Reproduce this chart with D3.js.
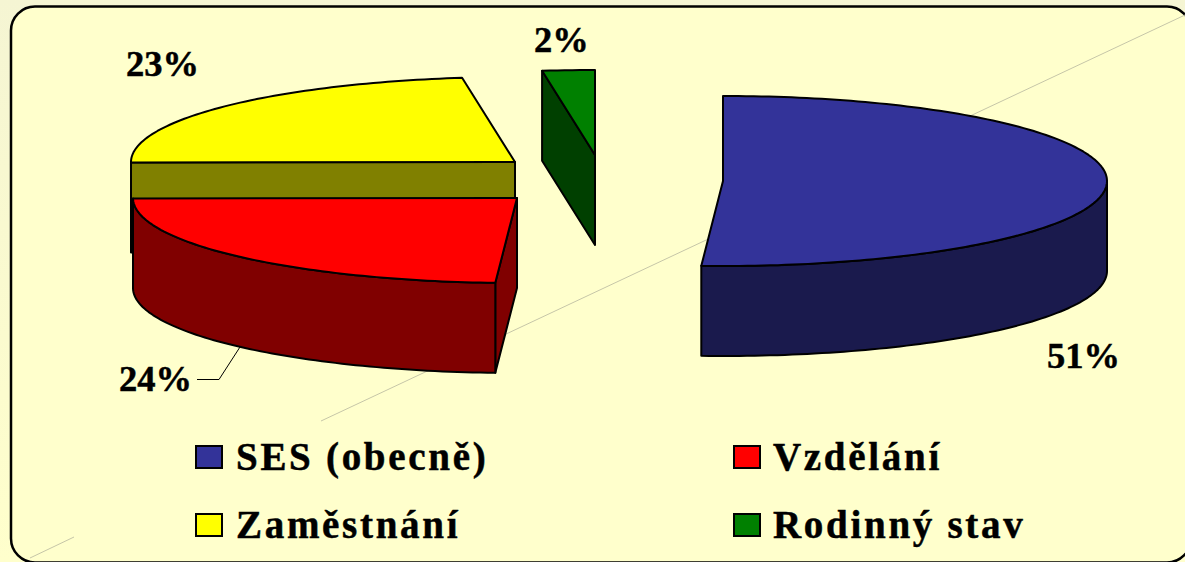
<!DOCTYPE html>
<html>
<head>
<meta charset="utf-8">
<script src="https://d3js.org/d3.v7.min.js"></script>
<style>
  html, body { margin: 0; padding: 0; background: #ffffcc; overflow: hidden; }
  text { font-family: "Liberation Serif", serif; font-weight: bold; fill: #000; stroke: #000; stroke-width: 0.5px; }
</style>
</head>
<body>
<div id="chart"></div>
<script>
// Chart data
const categories = ["SES (obecně)", "Vzdělání", "Zaměstnání", "Rodinný stav"];
const shares = [50.9, 24.0, 22.9, 2.2];

// Colours per slice: top face, then the darker side walls
const topColors = ["#333399", "#ff0000", "#ffff00", "#008000"];
const sideColors = ["#1a1a4d", "#800000", "#808000", "#004000"];

// Layout
const width = 1185, height = 562;
const rx = 384, ry = 85, depth = 90;
const centers = [[723, 181], [517, 198], [515, 162], [595, 155]]; // exploded slice apexes
const labelPos = [[1047, 368], [119, 391], [126, 76], [534, 52]];
const legendPos = [[195, 445], [733, 445], [195, 513], [733, 513]];

const svg = d3.select("#chart").append("svg")
    .attr("width", width)
    .attr("height", height)
    .style("display", "block");

const defs = svg.append("defs");
const grad = defs.append("linearGradient")
    .attr("id", "outer")
    .attr("x1", 0).attr("y1", 0).attr("x2", 0).attr("y2", 1);
grad.append("stop").attr("offset", "0%").attr("stop-color", "#f5f5d3");
grad.append("stop").attr("offset", "100%").attr("stop-color", "#ffffcc");

svg.append("rect")
    .attr("width", width)
    .attr("height", height)
    .attr("fill", "url(#outer)");

// Rounded panel, runs off the right and bottom of the picture
svg.append("rect")
    .attr("x", 11).attr("y", 6.5)
    .attr("width", 1180).attr("height", 556)
    .attr("rx", 24).attr("ry", 24)
    .attr("fill", "#ffffcc")
    .attr("stroke", "#000")
    .attr("stroke-width", 2.5);

// Thin diagonal decoration behind the pie
const diagonals = [[[1185, 15], [321, 421]], [[74, 537], [30, 558]]];
svg.selectAll(".diag")
    .data(diagonals)
    .enter()
    .append("line")
    .attr("class", "diag")
    .attr("x1", d => d[0][0]).attr("y1", d => d[0][1])
    .attr("x2", d => d[1][0]).attr("y2", d => d[1][1])
    .attr("stroke", "#c6c6a8")
    .attr("stroke-width", 1);

// Pie angles, clockwise from 12 o'clock
const slices = d3.pie().sort(null)(shares);

const line = d3.line();
const rimX = d3.scaleLinear().domain([-1, 1]).range([-rx, rx]);
const rimY = d3.scaleLinear().domain([-1, 1]).range([-ry, ry]);

// point on the ellipse rim of slice i at angle a, dropped by dy
function rim(i, a, dy) {
    return [centers[i][0] + rimX(Math.sin(a)), centers[i][1] + rimY(-Math.cos(a)) + (dy || 0)];
}

function arcPoints(i, a0, a1, dy) {
    const n = Math.max(2, Math.ceil(Math.abs(a1 - a0) / 0.02));
    return d3.range(n + 1).map(k => rim(i, a0 + (a1 - a0) * k / n, dy));
}

const pieG = svg.append("g")
    .attr("stroke", "#000")
    .attr("stroke-width", 2)
    .attr("stroke-linejoin", "round");

function drawFace(points, color) {
    pieG.append("path")
        .attr("d", line(points) + "Z")
        .attr("fill", color);
}

// flat cut face between the apex and the rim point at angle a
function drawCut(i, a) {
    const c = centers[i], p = rim(i, a);
    drawFace([c, p, [p[0], p[1] + depth], [c[0], c[1] + depth]], sideColors[i]);
}

function drawTop(i) {
    const s = slices[i];
    drawFace([centers[i]].concat(arcPoints(i, s.startAngle, s.endAngle)), topColors[i]);
}

// outer wall, only the part of the rim facing the viewer
function drawWall(i) {
    const s = slices[i];
    const a0 = Math.max(s.startAngle, Math.PI / 2);
    const a1 = Math.min(s.endAngle, Math.PI * 1.5);
    if (a1 <= a0) return;
    const top = arcPoints(i, a0, a1);
    const bottom = arcPoints(i, a1, a0, depth);
    drawFace(top.concat(bottom), sideColors[i]);
}

// Back to front: green, yellow, then blue and red
drawCut(3, slices[3].startAngle);
drawTop(3);

drawCut(2, slices[2].startAngle);
drawTop(2);

drawWall(0);
drawTop(0);

drawCut(1, slices[1].startAngle);
drawWall(1);
drawTop(1);

// Leader line for the 24% label
svg.append("path")
    .attr("d", line([[197, 379.5], [219, 379.5], [240, 347]]))
    .attr("fill", "none")
    .attr("stroke", "#000")
    .attr("stroke-width", 1);

// Percent labels
const pct = d => d3.format(".0f")(d) + "%";
svg.selectAll(".pct")
    .data(shares)
    .enter()
    .append("text")
    .attr("class", "pct")
    .attr("x", (d, i) => labelPos[i][0])
    .attr("y", (d, i) => labelPos[i][1])
    .style("font-size", "36.5px")
    .text(pct);

// Legend
const legend = svg.selectAll(".legend")
    .data(categories)
    .enter()
    .append("g")
    .attr("class", "legend")
    .attr("transform", (d, i) => `translate(${legendPos[i][0]},${legendPos[i][1]})`);

legend.append("rect")
    .attr("x", 1).attr("y", 1)
    .attr("width", 26).attr("height", 22)
    .attr("fill", (d, i) => topColors[i])
    .attr("stroke", "#000")
    .attr("stroke-width", 2);

legend.append("text")
    .attr("x", (d, i) => i % 2 ? 40 : 41)
    .attr("y", 25)
    .style("font-size", "39px")
    .style("letter-spacing", "2.7px")
    .text(d => d);
</script>
</body>
</html>
